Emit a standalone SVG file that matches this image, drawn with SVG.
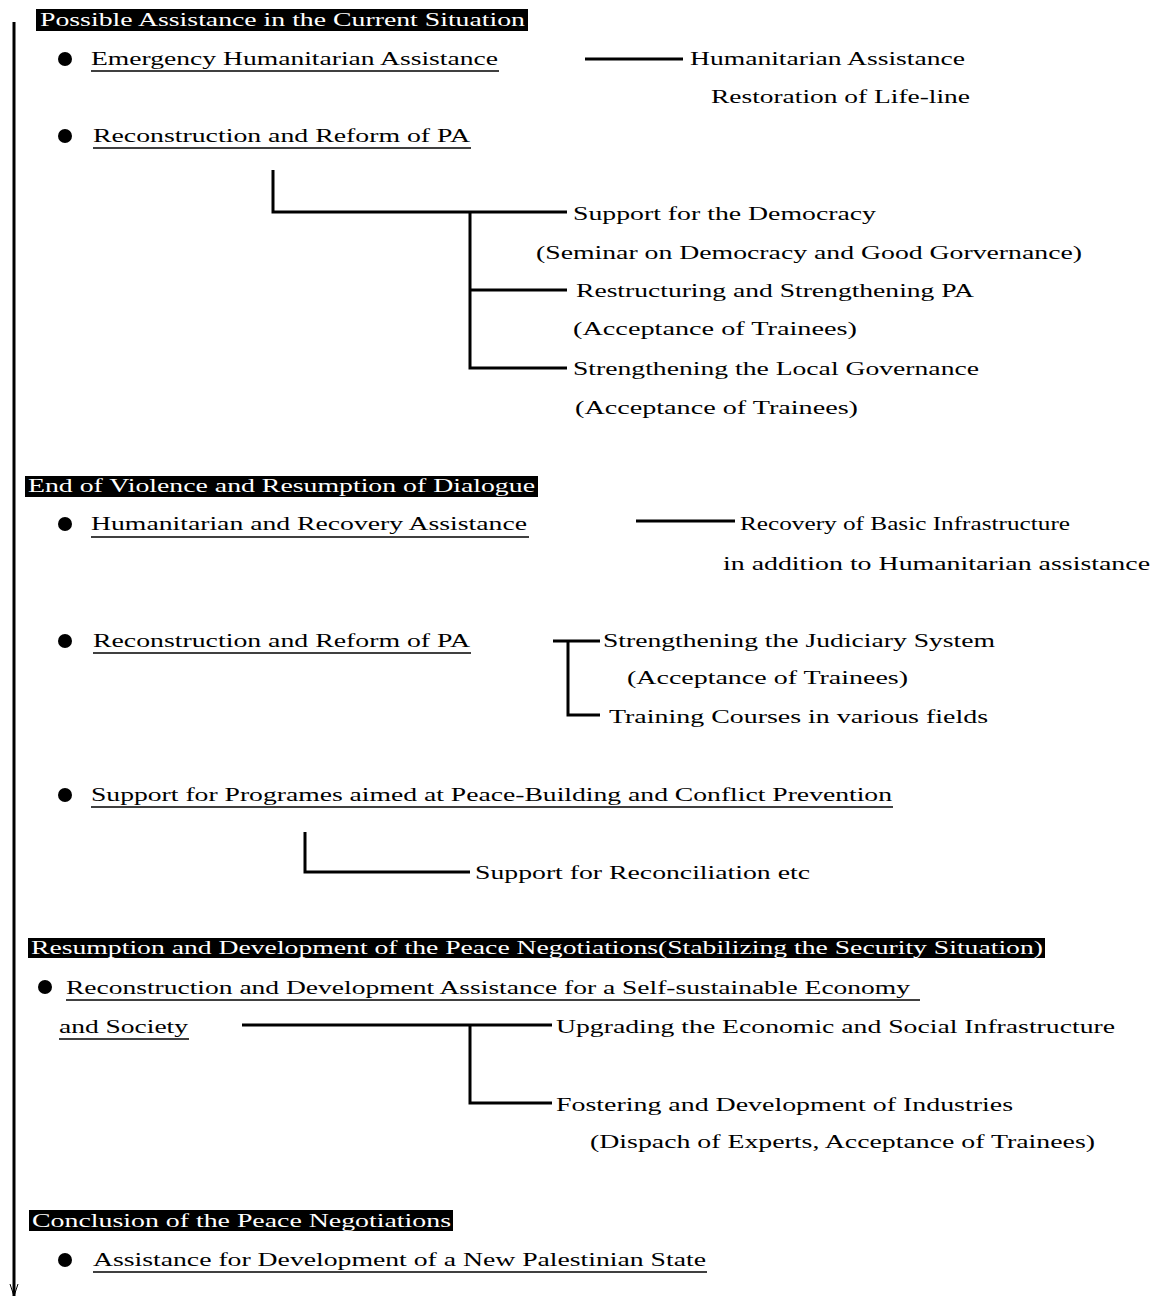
<svg xmlns="http://www.w3.org/2000/svg" width="1157" height="1298" viewBox="0 0 1157 1298">
<defs>
<style>
text{font-family:"Liberation Serif","DejaVu Serif",serif;font-size:18px;fill:#000}
.h{fill:#fff}
.hb{fill:#000}
.ul{stroke:#000;stroke-width:1.5}
.c{stroke:#000;stroke-width:3;fill:none}
.b{fill:#000}
</style>
<marker id="arr" viewBox="0 0 10 10" refX="5" refY="10" markerWidth="10" markerHeight="10" orient="auto-start-reverse" markerUnits="userSpaceOnUse">
<path d="M0,0 L5,10 L10,0" fill="none" stroke="#000" stroke-width="1"/>
</marker>
</defs>
<rect width="1157" height="1298" fill="#fff"/>

<g id="connectors">
<line class="c" x1="14" y1="22" x2="14" y2="1296" stroke-width="2"/>
<path d="M10,1284 L14,1296 L18,1284" fill="none" stroke="#000" stroke-width="1"/>
<line class="c" x1="585" y1="59" x2="683" y2="59"/>
<path class="c" d="M273,170 V212 H567"/>
<path class="c" d="M470,212 V368 H567"/>
<line class="c" x1="470" y1="290" x2="567" y2="290"/>
<line class="c" x1="636" y1="521" x2="735" y2="521"/>
<path class="c" d="M553,641 H600 M568,641 V715 H600"/>
<path class="c" d="M305,832 V872 H470"/>
<line class="c" x1="242" y1="1025" x2="552" y2="1025"/>
<path class="c" d="M470,1025 V1103 H552"/>
</g>

<g id="heading1">
<rect class="hb" x="36" y="9" width="492" height="22"/>
<text class="h" x="40" y="26" textLength="485" lengthAdjust="spacingAndGlyphs">Possible Assistance in the Current Situation</text>
</g>
<g id="emergency">
<circle class="b" cx="65" cy="59" r="7"/>
<text x="91" y="65" textLength="407" lengthAdjust="spacingAndGlyphs">Emergency Humanitarian Assistance</text>
<line class="ul" x1="91" y1="71" x2="499" y2="71"/>
</g>
<g id="humanitarian1">
<text x="690" y="65" textLength="275" lengthAdjust="spacingAndGlyphs">Humanitarian Assistance</text>
<text x="711" y="103" textLength="259" lengthAdjust="spacingAndGlyphs">Restoration of Life-line</text>
</g>
<g id="reform1">
<circle class="b" cx="65" cy="136" r="7"/>
<text x="93" y="142" textLength="377" lengthAdjust="spacingAndGlyphs">Reconstruction and Reform of PA</text>
<line class="ul" x1="93" y1="148" x2="471" y2="148"/>
</g>
<g id="democracy">
<text x="573" y="220" textLength="303" lengthAdjust="spacingAndGlyphs">Support for the Democracy</text>
<text x="536" y="259" textLength="546" lengthAdjust="spacingAndGlyphs">(Seminar on Democracy and Good Gorvernance)</text>
</g>
<g id="restructuring">
<text x="576" y="297" textLength="398" lengthAdjust="spacingAndGlyphs">Restructuring and Strengthening PA</text>
<text x="573" y="335" textLength="284" lengthAdjust="spacingAndGlyphs">(Acceptance of Trainees)</text>
</g>
<g id="localgov">
<text x="573" y="375" textLength="406" lengthAdjust="spacingAndGlyphs">Strengthening the Local Governance</text>
<text x="575" y="414" textLength="283" lengthAdjust="spacingAndGlyphs">(Acceptance of Trainees)</text>
</g>

<g id="heading2">
<rect class="hb" x="25" y="476" width="513" height="21"/>
<text class="h" x="28" y="492" textLength="507" lengthAdjust="spacingAndGlyphs">End of Violence and Resumption of Dialogue</text>
</g>
<g id="recovery">
<circle class="b" cx="65" cy="524" r="7"/>
<text x="91" y="530" textLength="436" lengthAdjust="spacingAndGlyphs">Humanitarian and Recovery Assistance</text>
<line class="ul" x1="91" y1="537" x2="529" y2="537"/>
</g>
<g id="basicinfra">
<text x="740" y="530" textLength="330" lengthAdjust="spacingAndGlyphs">Recovery of Basic Infrastructure</text>
<text x="723" y="570" textLength="427" lengthAdjust="spacingAndGlyphs">in addition to Humanitarian assistance</text>
</g>
<g id="reform2">
<circle class="b" cx="65" cy="641" r="7"/>
<text x="93" y="647" textLength="377" lengthAdjust="spacingAndGlyphs">Reconstruction and Reform of PA</text>
<line class="ul" x1="93" y1="653" x2="471" y2="653"/>
</g>
<g id="judiciary">
<text x="603" y="647" textLength="392" lengthAdjust="spacingAndGlyphs">Strengthening the Judiciary System</text>
<text x="627" y="684" textLength="281" lengthAdjust="spacingAndGlyphs">(Acceptance of Trainees)</text>
</g>
<g id="training">
<text x="609" y="723" textLength="379" lengthAdjust="spacingAndGlyphs">Training Courses in various fields</text>
</g>
<g id="peacebuilding">
<circle class="b" cx="65" cy="795" r="7"/>
<text x="91" y="801" textLength="801" lengthAdjust="spacingAndGlyphs">Support for Programes aimed at Peace-Building and Conflict Prevention</text>
<line class="ul" x1="91" y1="807" x2="893" y2="807"/>
</g>
<g id="reconciliation">
<text x="475" y="879" textLength="335" lengthAdjust="spacingAndGlyphs">Support for Reconciliation etc</text>
</g>

<g id="heading3">
<rect class="hb" x="28" y="938" width="1017" height="20"/>
<text class="h" x="31" y="954" textLength="1012" lengthAdjust="spacingAndGlyphs">Resumption and Development of the Peace Negotiations(Stabilizing the Security Situation)</text>
</g>
<g id="selfsustain">
<circle class="b" cx="45" cy="987" r="7"/>
<text x="66" y="994" textLength="844" lengthAdjust="spacingAndGlyphs">Reconstruction and Development Assistance for a Self-sustainable Economy</text>
<line class="ul" x1="66" y1="1000" x2="920" y2="1000"/>
<text x="59" y="1033" textLength="129" lengthAdjust="spacingAndGlyphs">and Society</text>
<line class="ul" x1="59" y1="1039" x2="189" y2="1039"/>
</g>
<g id="upgrading">
<text x="556" y="1033" textLength="559" lengthAdjust="spacingAndGlyphs">Upgrading the Economic and Social Infrastructure</text>
</g>
<g id="fostering">
<text x="556" y="1111" textLength="457" lengthAdjust="spacingAndGlyphs">Fostering and Development of Industries</text>
<text x="590" y="1148" textLength="505" lengthAdjust="spacingAndGlyphs">(Dispach of Experts, Acceptance of Trainees)</text>
</g>

<g id="heading4">
<rect class="hb" x="29" y="1210" width="424" height="21"/>
<text class="h" x="32" y="1227" textLength="419" lengthAdjust="spacingAndGlyphs">Conclusion of the Peace Negotiations</text>
</g>
<g id="newstate">
<circle class="b" cx="65" cy="1260" r="7"/>
<text x="93" y="1266" textLength="613" lengthAdjust="spacingAndGlyphs">Assistance for Development of a New Palestinian State</text>
<line class="ul" x1="93" y1="1272" x2="707" y2="1272"/>
</g>
</svg>
